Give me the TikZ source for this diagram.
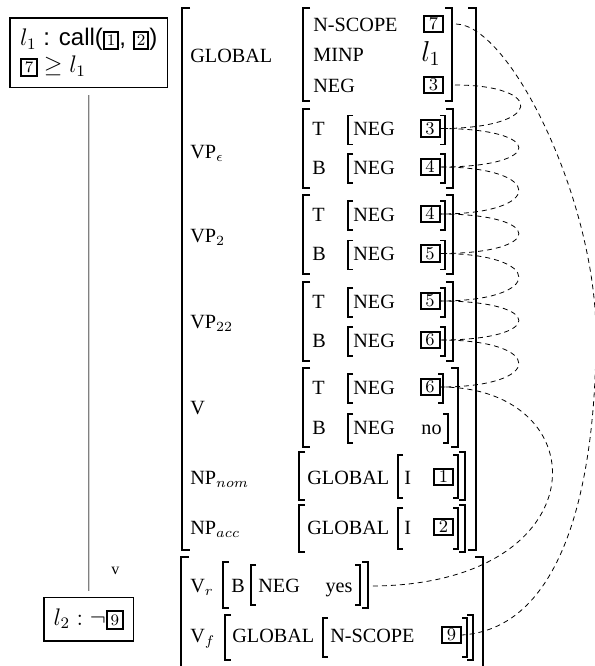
\documentclass[tikz,border=0pt]{standalone}
\usepackage[no-math]{fontspec}
\setmainfont{Liberation Serif}
\setsansfont{Liberation Sans}
\newcommand\bxd[2][1pt]{{\setlength\fboxsep{#1}\setlength\fboxrule{1pt}\fbox{\fontsize{8.5}{8.5}\selectfont$#2$}}}
\newcommand\brkL[4]{\draw[brk] ({#1+#4},#2) -- (#1,#2) -- (#1,#3) -- ({#1+#4},#3);}
\newcommand\brkR[4]{\draw[brk] ({#1-#4},#2) -- (#1,#2) -- (#1,#3) -- ({#1-#4},#3);}
\tikzset{
  brk/.style={line width=0.6pt},
  bigbrk/.style={line width=0.8pt},
  bx/.style={draw, line width=1pt, minimum width=9.5pt, minimum height=8.3pt, inner sep=0pt, font=\fontsize{9}{9}\selectfont},
  lab/.style={anchor=base west, inner sep=0pt, font=\fontsize{10.1}{12}\selectfont},
  val/.style={anchor=base, inner sep=0pt, font=\fontsize{10.1}{12}\selectfont},
  dsh/.style={dash pattern=on 2.5pt off 2pt, line width=0.4pt},
  lbox/.style={draw, line width=0.8pt, inner sep=0pt, font=\fontsize{12}{13.5}\selectfont},
}
\begin{document}
\begin{tikzpicture}[x=0.5pt, y=-0.5pt]
\useasboundingbox (0,0) rectangle (595,666);

% ---------- left column ----------
\node[lbox, minimum width=78.75pt, minimum height=34.75pt, align=left] (l1) at (88.75,52.75)
  {$l_1$\textsf{ : call(}\bxd{1}\textsf{, }\bxd{2}\textsf{)}\\\bxd[1.3pt]{7} $\geq l_1$};
\node[lbox, minimum width=44.75pt, minimum height=21.7pt] (l2) at (88.8,619.3) {$l_2 : \neg$\bxd[1.4pt]{9}};
\draw[gray, line width=0.6pt, shorten <=3.4pt, shorten >=3pt] (l1) -- (l2);
\node[inner sep=0pt, font=\fontsize{8}{8}\selectfont] (vlab) at (115.5,571) {v};

% ---------- first big AVM ----------
\draw[bigbrk] (190,8) -- (182,8) -- (182,550) -- (190,550);
\draw[bigbrk] (468,8) -- (476,8) -- (476,550) -- (468,550);
\node[lab] (lglobal) at (190,62.5) {GLOBAL};
\node[lab] (lvpe) at (190,158) {VP$_\epsilon$};
\node[lab] (lvp2) at (190,242) {VP$_2$};
\node[lab] (lvp22) at (190,328) {VP$_{22}$};
\node[lab] (lv) at (190,414) {V};
\node[lab] (lnpnom) at (190,484) {NP$_{nom}$};
\node[lab] (lnpacc) at (190,534) {NP$_{acc}$};

% GLOBAL
\brkL{303}{8}{101}{7} \brkR{452}{8}{101}{7}
\node[lab] (gns) at (313,31) {N-SCOPE};
\node[lab] (gminp) at (313,61) {MINP};
\node[lab] (gneg) at (313,92) {NEG};
\node[bx] (g7) at (433.5,24) {$7$};
\node[inner sep=0pt, anchor=base, font=\fontsize{14}{16}\selectfont] (gl1) at (431,61.5) {$l_1$};
\node[bx] (g3) at (433.5,85) {$3$};

% VP epsilon
\brkL{303}{109}{188}{7} \brkR{453}{109}{188}{7}
\node[lab] (vpeT) at (312,135.5) {T};
\node[lab] (vpeB) at (312,174) {B};
\brkL{348}{115.5}{144.5}{5} \brkR{445}{115.5}{144.5}{5}
\brkL{348}{154}{183}{5} \brkR{445}{154}{183}{5}
\node[lab] (vpeTn) at (353,135.5) {NEG};
\node[lab] (vpeBn) at (353,174) {NEG};
\node[bx] (vpet) at (430,128.5) {$3$};
\node[bx] (vpeb) at (430,167) {$4$};

% VP 2
\brkL{303}{195}{274}{7} \brkR{453}{195}{274}{7}
\node[lab] (vp2T) at (312,221) {T};
\node[lab] (vp2B) at (312,260.5) {B};
\brkL{348}{201}{230}{5} \brkR{445}{201}{230}{5}
\brkL{348}{240.5}{269.5}{5} \brkR{445}{240.5}{269.5}{5}
\node[lab] (vp2Tn) at (353,221) {NEG};
\node[lab] (vp2Bn) at (353,260.5) {NEG};
\node[bx] (vp2t) at (430,214) {$4$};
\node[bx] (vp2b) at (430,253.5) {$5$};

% VP 22
\brkL{303}{282}{361}{7} \brkR{453}{282}{361}{7}
\node[lab] (vp22T) at (312,308) {T};
\node[lab] (vp22B) at (312,347) {B};
\brkL{348}{288}{317}{5} \brkR{445}{288}{317}{5}
\brkL{348}{327}{356}{5} \brkR{445}{327}{356}{5}
\node[lab] (vp22Tn) at (353,308) {NEG};
\node[lab] (vp22Bn) at (353,347) {NEG};
\node[bx] (vp22t) at (430,301) {$5$};
\node[bx] (vp22b) at (430,340) {$6$};

% V
\brkL{303}{368}{447}{7} \brkR{458}{368}{447}{7}
\node[lab] (vT) at (312,394) {T};
\node[lab] (vB) at (312,434) {B};
\brkL{348}{374}{403}{5} \brkR{443}{374}{403}{5}
\brkL{348}{414}{443}{5} \brkR{448}{414}{443}{5}
\node[lab] (vTn) at (353,394) {NEG};
\node[lab] (vBn) at (353,434) {NEG};
\node[bx] (vt) at (430,387) {$6$};
\node[val] (vno) at (431.5,434) {no};

% NP nom
\brkL{299}{452}{500}{6} \brkR{465}{452}{500}{6}
\node[lab] (nng) at (307,484) {GLOBAL};
\brkL{398}{455}{498}{5} \brkR{458}{455}{498}{5}
\node[lab] (nni) at (404,484) {I};
\node[bx] (b1) at (443.5,477) {$1$};

% NP acc
\brkL{299}{505}{552}{6} \brkR{465}{505}{552}{6}
\node[lab] (nag) at (307,534) {GLOBAL};
\brkL{398}{508}{549}{5} \brkR{458}{508}{549}{5}
\node[lab] (nai) at (404,534) {I};
\node[bx] (b2) at (443.5,527) {$2$};

% ---------- second big AVM ----------
\draw[bigbrk] (189,557) -- (181,557) -- (181,670);
\draw[bigbrk] (475,557) -- (483,557) -- (483,670);
\node[lab] (lvr) at (190,592) {V$_r$};
\node[lab] (lvf) at (190,642) {V$_f$};

% V_r
\brkL{223}{562}{608}{6} \brkR{368}{562}{608}{6}
\node[lab] (vrb) at (231,592) {B};
\brkL{251}{565}{605}{5} \brkR{360}{565}{605}{5}
\node[lab] (vrneg) at (258,592) {NEG};
\node[val] (vryes) at (339,592) {yes};
\coordinate (vrend) at (370,586);

% V_f
\brkL{225}{615}{660}{6} \brkR{473}{615}{660}{6}
\node[lab] (vfg) at (232,642) {GLOBAL};
\brkL{323}{618}{657}{5} \brkR{467}{618}{657}{5}
\node[lab] (vfns) at (330,642) {N-SCOPE};
\node[bx] (b9) at (451.5,635) {$9$};

% ---------- dashed connectors ----------
\draw[dsh] ([xshift=5.5pt]g3.east) .. controls (545,85) and (545,128.5) .. (vpet.east);
\draw[dsh] (vpet.east) .. controls (545,128.5) and (545,167) .. (vpeb.east);
\draw[dsh] (vpeb.east) .. controls (545,167) and (545,214) .. (vp2t.east);
\draw[dsh] (vp2t.east) .. controls (545,214) and (545,253.5) .. (vp2b.east);
\draw[dsh] (vp2b.east) .. controls (545,253.5) and (545,301) .. (vp22t.east);
\draw[dsh] (vp22t.east) .. controls (545,301) and (545,340) .. (vp22b.east);
\draw[dsh] (vp22b.east) .. controls (545,340) and (545,387) .. (vt.east);
\draw[dsh] (vt.east) .. controls (600,387) and (600,586) .. (vrend);
\draw[dsh] ([xshift=6pt]g7.east) .. controls (510,25) and (596,200) .. (596,335)
  .. controls (596,480) and (565,628) .. (b9.east);
\end{tikzpicture}
\end{document}
